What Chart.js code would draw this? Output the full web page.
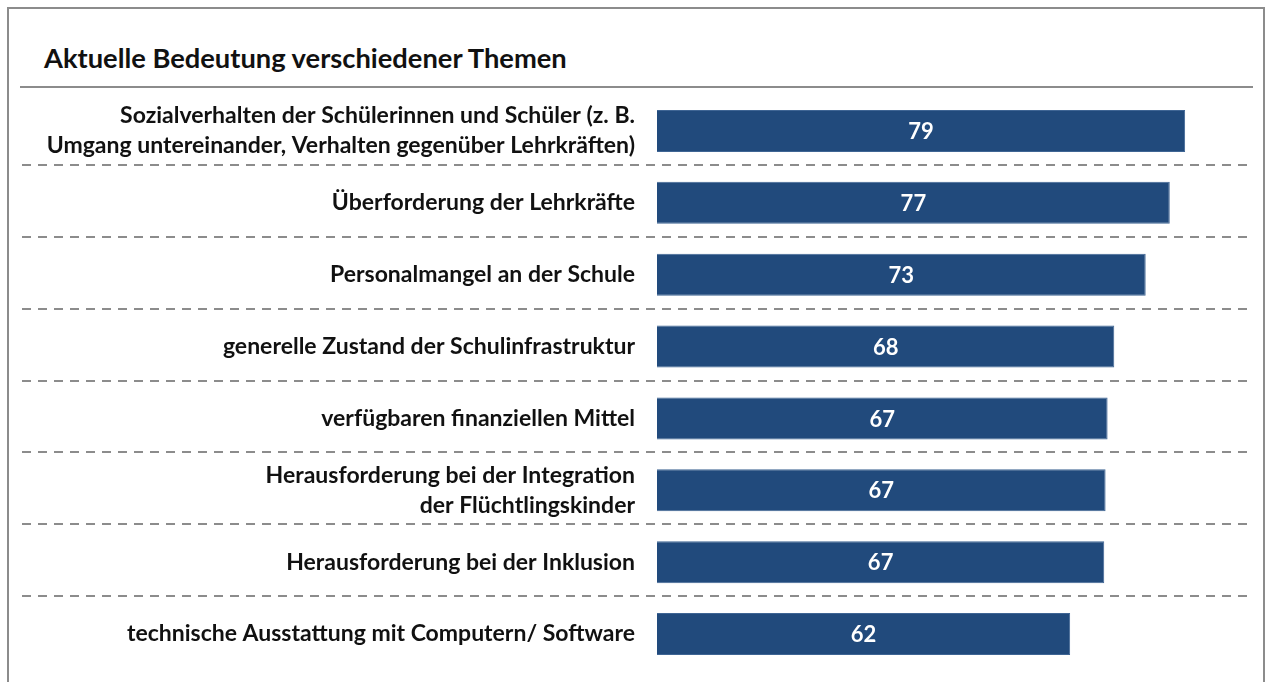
<!DOCTYPE html>
<html>
<head>
<meta charset="utf-8">
<script src="https://cdn.jsdelivr.net/npm/chart.js@4/dist/chart.umd.min.js"></script>
<style>
  html, body { margin: 0; padding: 0; background: #fff; }
  body { width: 1269px; height: 682px; position: relative; overflow: hidden; font-family: Lato, "Noto Sans", sans-serif; }
  #frame { position: absolute; left: 7px; top: 7px; width: 1258px; height: 720px; border: 2px solid #8c8c8c; box-sizing: border-box; }
  #title { position: absolute; left: 44px; top: 44px; font-size: 27.3px; line-height: 27px; font-weight: bold; color: #111; white-space: nowrap; }
  #rule { position: absolute; left: 20px; top: 86px; width: 1233px; height: 2px; background: #8c8c8c; }
  #wrap { position: absolute; left: 0; top: 0; width: 1269px; height: 682px; }
</style>
</head>
<body>
<div id="frame"></div>
<div id="title">Aktuelle Bedeutung verschiedener Themen</div>
<div id="rule"></div>
<div id="wrap"><canvas id="myChart" width="1269" height="682"></canvas></div>
<script>
// Themen (Kategorien)
const categories = [
    ["Sozialverhalten der Schülerinnen und Schüler (z. B.", "Umgang untereinander, Verhalten gegenüber Lehrkräften)"],
    "Überforderung der Lehrkräfte",
    "Personalmangel an der Schule",
    "generelle Zustand der Schulinfrastruktur",
    "verfügbaren finanziellen Mittel",
    ["Herausforderung bei der Integration", "der Flüchtlingskinder"],
    "Herausforderung bei der Inklusion",
    "technische Ausstattung mit Computern/ Software"
];

// Werte (Balkenlängen aus dem Bild geschätzt)
const values = [79.0, 76.7, 73.1, 68.4, 67.4, 67.1, 66.9, 61.8];

// Beschriftung in den Balken
const valueLabels = [79, 77, 73, 68, 67, 67, 67, 62];

// gestrichelte Trennlinien zwischen den Zeilen
const separatorPlugin = {
    id: 'separators',
    beforeDatasetsDraw(chart) {
        const ctx = chart.ctx;
        const y = chart.scales.y;
        ctx.save();
        ctx.strokeStyle = '#8c8c8c';
        ctx.lineWidth = 2;
        ctx.setLineDash([9, 7]);
        for (let i = 1; i < categories.length; i++) {
            const py = Math.round((y.getPixelForValue(i - 1) + y.getPixelForValue(i)) / 2) - 2;
            ctx.beginPath();
            ctx.moveTo(22, py);
            ctx.lineTo(chart.chartArea.right, py);
            ctx.stroke();
        }
        ctx.restore();
    }
};

// Zahlen in die Balken schreiben
const valuePlugin = {
    id: 'valueLabels',
    afterDatasetsDraw(chart) {
        const ctx = chart.ctx;
        const meta = chart.getDatasetMeta(0);
        ctx.save();
        ctx.fillStyle = '#ffffff';
        ctx.font = 'bold 22px Lato, "Noto Sans", sans-serif';
        ctx.textAlign = 'center';
        ctx.textBaseline = 'middle';
        meta.data.forEach((bar, i) => {
            ctx.fillText(String(valueLabels[i]), (bar.x + bar.base) / 2, bar.y + 1);
        });
        ctx.restore();
    }
};

const ctx = document.getElementById('myChart').getContext('2d');
window.myChart = new Chart(ctx, {
    type: 'bar',
    data: {
        labels: categories,
        datasets: [{
            data: values,
            backgroundColor: '#214a7c',
            borderColor: '#3f6594',
            borderWidth: 1,
            barPercentage: 42 / 72,
            categoryPercentage: 1
        }]
    },
    options: {
        indexAxis: 'y',
        responsive: false,
        maintainAspectRatio: false,
        animation: false,
        layout: {
            padding: { top: 95, bottom: 12, left: 0, right: 17 }
        },
        scales: {
            x: {
                display: false,
                min: 0,
                max: 89
            },
            y: {
                grid: { display: false, drawTicks: false },
                border: { display: false },
                afterFit(scale) {
                    scale.width = 657;
                    scale.paddingTop = 0;
                    scale.paddingBottom = 0;
                },
                ticks: {
                    padding: 22,
                    color: '#111111',
                    font: { family: 'Lato, "Noto Sans", sans-serif', size: 23, weight: 'bold', lineHeight: 1.3 }
                }
            }
        },
        plugins: {
            legend: { display: false },
            tooltip: { enabled: false }
        }
    },
    plugins: [separatorPlugin, valuePlugin]
});
</script>
</body>
</html>
